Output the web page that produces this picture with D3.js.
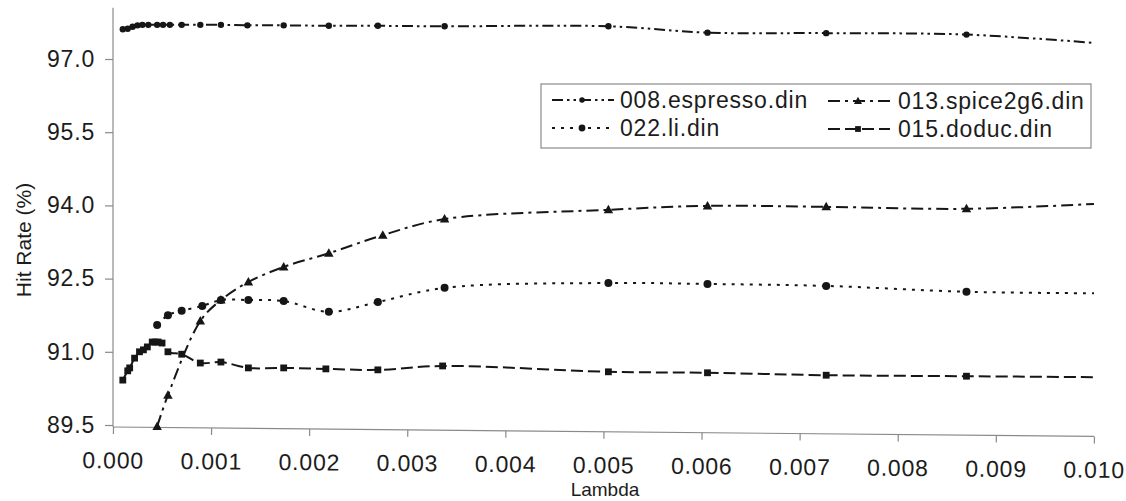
<!DOCTYPE html>
<html>
<head>
<meta charset="utf-8">
<script src="https://cdn.jsdelivr.net/npm/d3@7"></script>
<style>
  html, body { margin: 0; padding: 0; background: #ffffff; }
  svg { display: block; font-family: "Liberation Sans", Arial, sans-serif; }
</style>
</head>
<body>
<svg id="chart" width="1126" height="501"></svg>
<script>
// ---- data ----
const xTicks = [0, 0.001, 0.002, 0.003, 0.004, 0.005, 0.006, 0.007, 0.008, 0.009, 0.010];
const yTicks = [89.5, 91.0, 92.5, 94.0, 95.5, 97.0];

const lamEspresso = [0.0001, 0.00015, 0.0002, 0.00025, 0.0003, 0.00036, 0.00045, 0.00051, 0.00058, 0.0007, 0.00089, 0.0011, 0.00137, 0.00174, 0.0022, 0.0027, 0.00338, 0.00505, 0.00606, 0.00727, 0.0087, 0.0100];
const espresso    = [97.61, 97.62, 97.66, 97.69, 97.70, 97.70, 97.70, 97.70, 97.70, 97.70, 97.70, 97.70, 97.69, 97.69, 97.68, 97.68, 97.67, 97.67, 97.54, 97.53, 97.50, 97.33];

const lamSpice = [0.00045, 0.00056, 0.00089, 0.0011, 0.00138, 0.00174, 0.0022, 0.00275, 0.00338, 0.00505, 0.00606, 0.00727, 0.0087, 0.0100];
const spice    = [89.47, 90.11, 91.63, 92.06, 92.43, 92.74, 93.02, 93.39, 93.72, 93.91, 93.99, 93.97, 93.93, 94.03];

const lamLi = [0.00045, 0.00056, 0.0007, 0.00091, 0.0011, 0.00138, 0.00174, 0.0022, 0.0027, 0.00338, 0.00505, 0.00606, 0.00727, 0.0087, 0.0100];
const li    = [91.55, 91.75, 91.84, 91.94, 92.06, 92.06, 92.04, 91.82, 92.02, 92.31, 92.41, 92.39, 92.35, 92.23, 92.20];

const lamDoduc = [0.0001, 0.00015, 0.00017, 0.00022, 0.00027, 0.00031, 0.00035, 0.0004, 0.00043, 0.00046, 0.0005, 0.00056, 0.0007, 0.00089, 0.0011, 0.00138, 0.00174, 0.00217, 0.0027, 0.00336, 0.00505, 0.00606, 0.00727, 0.0087, 0.0100];
const doduc    = [90.42, 90.61, 90.67, 90.87, 91.00, 91.04, 91.10, 91.20, 91.20, 91.20, 91.18, 91.00, 90.95, 90.77, 90.79, 90.67, 90.67, 90.65, 90.63, 90.71, 90.59, 90.57, 90.52, 90.50, 90.48];

const seriesNames = ["008.espresso.din", "013.spice2g6.din", "022.li.din", "015.doduc.din"];

// ---- layout ----
const svg = d3.select("#chart");
const left = 113, right = 1094, bottom = 425;
const x = d3.scaleLinear().domain([0, 0.010]).range([left, right]);
const y = d3.scaleLinear().domain([89.5, 97.0]).range([bottom, 59]);
const yTop = y(98.05);

const ink = "#161616";
const txt = "#1c1c1c";
const axisCol = "#8a8a8a";
const fs = "23px", ls = "0.8px";

// y axis
const yAxis = svg.append("g").attr("transform", `translate(${left},0)`)
  .call(d3.axisLeft(y).tickValues(yTicks).tickFormat(d3.format(".1f")).tickSize(8).tickPadding(10));
yAxis.select(".domain").remove();
yAxis.append("line").attr("x1", 0).attr("x2", 0).attr("y1", yTop).attr("y2", bottom + 2)
  .attr("stroke", axisCol).attr("stroke-width", 1.2);
yAxis.selectAll(".tick line").attr("stroke", axisCol).attr("stroke-width", 1.2);
yAxis.selectAll(".tick text").attr("fill", txt).style("font-size", fs).style("letter-spacing", ls);

// x axis (scan is slightly skewed)
const xAxis = svg.append("g").attr("transform", `rotate(0.55, ${left}, ${bottom + 2}) translate(0,${bottom + 2})`)
  .call(d3.axisBottom(x).tickValues(xTicks).tickFormat(d3.format(".3f")).tickSize(7).tickPadding(18));
xAxis.select(".domain").attr("stroke", axisCol).attr("stroke-width", 1.2).attr("d", `M${left},0H${right}`);
xAxis.selectAll(".tick line").attr("stroke", axisCol).attr("stroke-width", 1.2);
xAxis.selectAll(".tick text").attr("fill", txt).style("font-size", fs).style("letter-spacing", ls);

// axis titles
svg.append("text").attr("x", 605).attr("y", 496).attr("text-anchor", "middle")
  .attr("fill", txt).style("font-size", "19px").text("Lambda");
svg.append("text").attr("transform", "translate(31,240) rotate(-90)").attr("text-anchor", "middle")
  .attr("fill", txt).style("font-size", "21px").text("Hit Rate (%)");

// ---- series ----
const styles = [
  { lam: lamEspresso, val: espresso, dash: "11,4,2.5,4,2.5,4", marker: "circle", r: 3.2 },
  { lam: lamSpice,    val: spice,    dash: "12,5,3,5",          marker: "triangle", r: 5 },
  { lam: lamLi,       val: li,       dash: "3,6",               marker: "circle", r: 4 },
  { lam: lamDoduc,    val: doduc,    dash: "12,5",              marker: "square", r: 3.4 }
];

const line = d3.line().x(d => x(d[0])).y(d => y(d[1])).curve(d3.curveCatmullRom.alpha(0.5));

function drawMarker(g, type, cx, cy, r) {
  if (type === "circle") {
    g.append("circle").attr("cx", cx).attr("cy", cy).attr("r", r).attr("fill", ink);
  } else if (type === "square") {
    g.append("rect").attr("x", cx - r).attr("y", cy - r).attr("width", 2 * r).attr("height", 2 * r).attr("fill", ink);
  } else {
    const p = [[cx, cy - r], [cx + r * 0.95, cy + r * 0.7], [cx - r * 0.95, cy + r * 0.7]];
    g.append("path").attr("d", "M" + p.map(q => q.join(",")).join("L") + "Z").attr("fill", ink);
  }
}

styles.forEach(s => {
  const pts = s.lam.map((l, i) => [l, s.val[i]]);
  const g = svg.append("g");
  g.append("path").attr("d", line(pts)).attr("fill", "none").attr("stroke", ink)
    .attr("stroke-width", 2).attr("stroke-dasharray", s.dash);
  pts.slice(0, -1).forEach(p => drawMarker(g, s.marker, x(p[0]), y(p[1]), s.r));
});

// ---- legend ----
const lg = svg.append("g");
lg.append("rect").attr("x", 541).attr("y", 84).attr("width", 550).attr("height", 64)
  .attr("fill", "#ffffff").attr("stroke", "#8a8a8a").attr("stroke-width", 1.2);
const legendPos = [
  { sx: 552, tx: 620, cy: 100 },   // espresso
  { sx: 828, tx: 898, cy: 101 },   // spice
  { sx: 552, tx: 620, cy: 128 },   // li
  { sx: 828, tx: 898, cy: 129 }    // doduc
];
styles.forEach((s, i) => {
  const p = legendPos[i];
  lg.append("line").attr("x1", p.sx).attr("x2", p.sx + 62).attr("y1", p.cy).attr("y2", p.cy)
    .attr("stroke", ink).attr("stroke-width", 2).attr("stroke-dasharray", s.dash);
  drawMarker(lg, s.marker, p.sx + 30, p.cy, s.r * 0.85);
  lg.append("text").attr("x", p.tx).attr("y", p.cy + 8).attr("fill", txt)
    .style("font-size", fs).style("letter-spacing", ls).text(seriesNames[i]);
});
</script>
</body>
</html>
